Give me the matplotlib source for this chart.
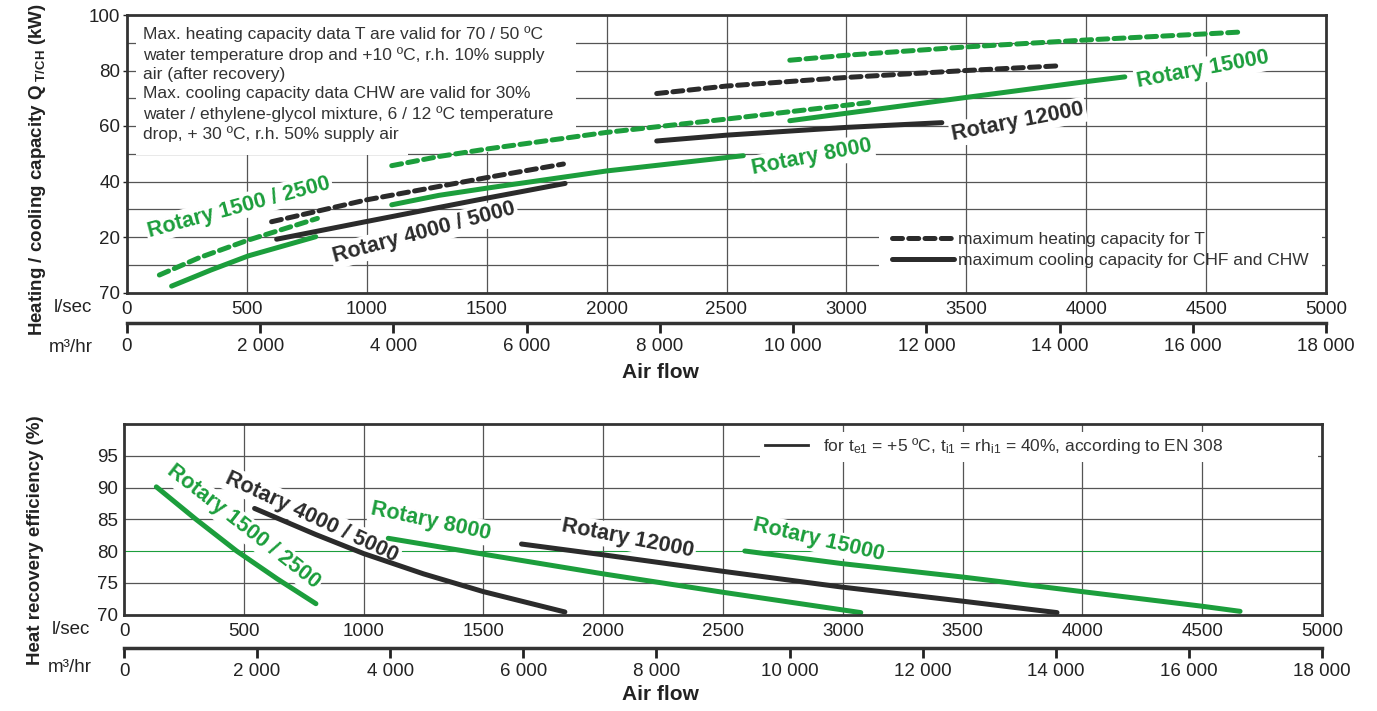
import matplotlib.pyplot as plt
from matplotlib.lines import Line2D
from matplotlib.patches import Rectangle

plt.rcParams["font.family"] = ["Liberation Sans", "DejaVu Sans"]
plt.rcParams["mathtext.fontset"] = "custom"
plt.rcParams["mathtext.rm"] = "Liberation Sans"
plt.rcParams["mathtext.bf"] = "Liberation Sans:bold"
plt.rcParams["mathtext.it"] = "Liberation Sans:italic"

GREEN = "#1c9e3c"
DARK = "#2b2b2b"
GRID = "#555555"
DASH = (0, (2.0, 1.25))

# ---- capacity chart: kW vs air flow (l/s)
heat_1500_x = [135, 300, 506, 794]
heat_1500_y = [6.3, 12.5, 18.9, 26.7]
cool_1500_x = [186, 350, 506, 787]
cool_1500_y = [2.3, 8.1, 13.2, 20.1]
heat_4000_x = [603, 1000, 1500, 1820]
heat_4000_y = [25.5, 33.4, 41.4, 46.3]
cool_4000_x = [624, 1000, 1500, 1827]
cool_4000_y = [19.2, 25.6, 34.0, 39.3]
heat_8000_x = [1104, 1300, 1500, 2000, 2500, 3000, 3118]
heat_8000_y = [45.7, 49.0, 51.7, 57.7, 62.5, 67.5, 68.7]
cool_8000_x = [1104, 1300, 1500, 2000, 2570]
cool_8000_y = [31.6, 35.0, 37.6, 43.8, 49.3]
heat_12000_x = [2209, 2500, 3000, 3500, 3890]
heat_12000_y = [71.7, 74.4, 77.5, 80.0, 81.7]
cool_12000_x = [2209, 2500, 3000, 3398]
cool_12000_y = [54.6, 56.7, 59.5, 61.2]
heat_15000_x = [2764, 3000, 3500, 4000, 4500, 4652]
heat_15000_y = [83.7, 85.5, 88.5, 91.0, 93.2, 93.9]
cool_15000_x = [2764, 3000, 3500, 4000, 4161]
cool_15000_y = [61.9, 64.6, 70.3, 76.0, 77.7]

# ---- efficiency chart: % vs air flow (l/s)
eff_1500_x = [135, 300, 470, 640, 801]
eff_1500_y = [90.1, 85.0, 80.0, 75.6, 71.7]
eff_4000_x = [545, 800, 1000, 1250, 1500, 1840]
eff_4000_y = [86.7, 82.6, 79.6, 76.4, 73.6, 70.4]
eff_8000_x = [1103, 1500, 2000, 2500, 3075]
eff_8000_y = [82.0, 79.5, 76.4, 73.5, 70.3]
eff_12000_x = [1659, 2000, 2500, 3000, 3500, 3894]
eff_12000_y = [81.1, 79.4, 76.8, 74.3, 72.1, 70.3]
eff_15000_x = [2591, 3000, 3500, 4000, 4500, 4658]
eff_15000_y = [80.0, 78.0, 75.9, 73.6, 71.3, 70.5]

ls_ticks = [0, 500, 1000, 1500, 2000, 2500, 3000, 3500, 4000, 4500, 5000]
m3_ticks = [0, 2000, 4000, 6000, 8000, 10000, 12000, 14000, 16000, 18000]
m3_labels = ["0", "2 000", "4 000", "6 000", "8 000", "10 000",
             "12 000", "14 000", "16 000", "18 000"]
kw_ticks = [0, 20, 40, 60, 80, 100]
kw_labels = ["70", "20", "40", "60", "80", "100"]
eff_ticks = [70, 75, 80, 85, 90, 95]

W, H = 1377, 711
fig = plt.figure(figsize=(W / 100, H / 100), dpi=100)


def px_axes(left, top, right, bottom):
    return fig.add_axes([left / W, 1 - bottom / H, (right - left) / W, (bottom - top) / H])


def style_axes(ax, m3_loc):
    for s in ax.spines.values():
        s.set_linewidth(2)
        s.set_color("#333333")
        s.set_zorder(6)
    ax.set_xlim(0, 5000)
    ax.set_xticks(ls_ticks)
    ax.set_xticklabels([str(t) for t in ls_ticks])
    ax.tick_params(axis="x", length=0, pad=6, labelsize=13.5, colors="#222222")
    ax.tick_params(axis="y", length=3, width=1, pad=2, labelsize=13.5, colors="#222222")
    sec = ax.secondary_xaxis(m3_loc, functions=(lambda x: x * 3.6, lambda x: x / 3.6))
    sec.set_xticks(m3_ticks)
    sec.set_xticklabels(m3_labels)
    sec.spines["bottom"].set_linewidth(2.5)
    sec.spines["bottom"].set_color("#333333")
    sec.tick_params(axis="x", direction="out", length=7, width=2, pad=4,
                    labelsize=13.5, colors="#222222")
    for x in ls_ticks[1:-1]:
        ax.axvline(x, color=GRID, lw=0.9, zorder=2)


def curve(ax, x, y, color, dashed=False):
    if dashed:
        ax.plot(x, y, color=color, lw=3.6, linestyle=DASH,
                dash_capstyle="round", solid_capstyle="round", zorder=3)
    else:
        ax.plot(x, y, color=color, lw=3.6, solid_capstyle="round", zorder=3)


def label(ax, x, y, s, color, rot):
    ax.text(x, y, s, color=color, fontsize=15.5, fontweight="bold", rotation=rot,
            rotation_mode="anchor", ha="center", va="center", zorder=2.5,
            bbox=dict(facecolor="white", edgecolor="none", pad=1.5))


# ================= top chart =================
ax1 = px_axes(127, 15, 1326, 292.5)
style_axes(ax1, -0.11)
ax1.set_ylim(0, 100)
ax1.set_yticks(kw_ticks)
ax1.set_yticklabels(kw_labels)
for y in range(10, 100, 10):
    ax1.axhline(y, color=GRID, lw=0.9, zorder=1)

# white areas behind the notes
ax1.add_patch(Rectangle((0.0075, 0.505), 0.367, 0.49, transform=ax1.transAxes,
                        facecolor="white", edgecolor="none", zorder=2.4))
ax1.add_patch(Rectangle((0.0075, 0.495), 0.227, 0.02, transform=ax1.transAxes,
                        facecolor="white", edgecolor="none", zorder=2.4))
ax1.add_patch(Rectangle((0.627, 0.081), 0.370, 0.151, transform=ax1.transAxes,
                        facecolor="white", edgecolor="none", zorder=1.5))

curve(ax1, heat_1500_x, heat_1500_y, GREEN, True)
curve(ax1, cool_1500_x, cool_1500_y, GREEN)
curve(ax1, heat_4000_x, heat_4000_y, DARK, True)
curve(ax1, cool_4000_x, cool_4000_y, DARK)
curve(ax1, heat_8000_x, heat_8000_y, GREEN, True)
curve(ax1, cool_8000_x, cool_8000_y, GREEN)
curve(ax1, heat_12000_x, heat_12000_y, DARK, True)
curve(ax1, cool_12000_x, cool_12000_y, DARK)
curve(ax1, heat_15000_x, heat_15000_y, GREEN, True)
curve(ax1, cool_15000_x, cool_15000_y, GREEN)

label(ax1, 467, 30.8, "Rotary 1500 / 2500", GREEN, 15)
label(ax1, 1239, 21.5, "Rotary 4000 / 5000", DARK, 15)
label(ax1, 2857, 48.8, "Rotary 8000", GREEN, 11)
label(ax1, 3716, 61.4, "Rotary 12000", DARK, 11)
label(ax1, 4487, 80.2, "Rotary 15000", GREEN, 10.5)

note = ("Max. heating capacity data T are valid for 70 / 50 ºC\n"
        "water temperature drop and +10 ºC, r.h. 10% supply\n"
        "air (after recovery)\n"
        "Max. cooling capacity data CHW are valid for 30%\n"
        "water / ethylene-glycol mixture, 6 / 12 ºC temperature\n"
        "drop, + 30 ºC, r.h. 50% supply air")
ax1.text(0.013, 0.96, note, transform=ax1.transAxes, ha="left", va="top",
         fontsize=12.5, linespacing=1.36, color="#333333", zorder=4)

leg1 = ax1.legend(
    handles=[Line2D([], [], color=DARK, lw=3.6, linestyle=DASH,
                    dash_capstyle="round"),
             Line2D([], [], color=DARK, lw=3.6, solid_capstyle="round")],
    labels=["maximum heating capacity for T",
            "maximum cooling capacity for CHF and CHW"],
    loc="center left", bbox_to_anchor=(0.638, 0.153), frameon=False,
    fontsize=12.5, handlelength=3.6, handletextpad=0.2, labelspacing=0.3,
    borderpad=0, borderaxespad=0)
for t in leg1.get_texts():
    t.set_color("#333333")

fig.text(92 / W, 1 - 307 / H, "l/sec", ha="right", va="center", fontsize=13.5, color="#222222")
fig.text(93 / W, 1 - 347 / H, "m³/hr", ha="right", va="center", fontsize=13.5, color="#222222")
fig.text(660 / W, 1 - 373 / H, "Air flow", ha="center", va="center",
         fontsize=15, fontweight="bold", color="#222222")
fig.text(38 / W, 1 - 170 / H, r"Heating / cooling capacity Q$_{\ \mathbf{T/CH}}$ (kW)",
         rotation=90, ha="center", va="center", fontsize=13.5, fontweight="bold",
         color="#222222")

# ================= bottom chart =================
ax2 = px_axes(124, 424, 1322, 614.5)
style_axes(ax2, -0.175)
ax2.set_ylim(70, 100)
ax2.set_yticks(eff_ticks)
ax2.tick_params(axis="y", length=0, pad=4)
for y in [75, 85, 90, 95]:
    ax2.axhline(y, color=GRID, lw=0.9, zorder=1)
ax2.axhline(80, color=GREEN, lw=0.8, zorder=1)

ax2.add_patch(Rectangle((0.531, 0.80), 0.466, 0.158, transform=ax2.transAxes,
                        facecolor="white", edgecolor="none", zorder=2.4))

curve(ax2, eff_1500_x, eff_1500_y, GREEN)
curve(ax2, eff_4000_x, eff_4000_y, DARK)
curve(ax2, eff_8000_x, eff_8000_y, GREEN)
curve(ax2, eff_12000_x, eff_12000_y, DARK)
curve(ax2, eff_15000_x, eff_15000_y, GREEN)

label(ax2, 497, 83.8, "Rotary 1500 / 2500", GREEN, -38)
label(ax2, 785, 85.4, "Rotary 4000 / 5000", DARK, -25)
label(ax2, 1281, 84.7, "Rotary 8000", GREEN, -12)
label(ax2, 2103, 82.0, "Rotary 12000", DARK, -11)
label(ax2, 2901, 81.7, "Rotary 15000", GREEN, -13)

leg2 = ax2.legend(
    handles=[Line2D([], [], color=DARK, lw=2)],
    labels=[r"for t$_{\rm e1}$ = +5 ºC, t$_{\rm i1}$ = rh$_{\rm i1}$ = 40%, according to EN 308"],
    loc="center left", bbox_to_anchor=(0.535, 0.885), frameon=False,
    fontsize=12.5, handlelength=2.5, handletextpad=0.85,
    borderpad=0, borderaxespad=0)
for t in leg2.get_texts():
    t.set_color("#333333")

fig.text(90 / W, 1 - 630 / H, "l/sec", ha="right", va="center", fontsize=13.5, color="#222222")
fig.text(92 / W, 1 - 667 / H, "m³/hr", ha="right", va="center", fontsize=13.5, color="#222222")
fig.text(660 / W, 1 - 695 / H, "Air flow", ha="center", va="center",
         fontsize=15, fontweight="bold", color="#222222")
fig.text(36 / W, 1 - 540 / H, "Heat recovery efficiency (%)",
         rotation=90, ha="center", va="center", fontsize=13.5, fontweight="bold",
         color="#222222")

fig.savefig("out.png", dpi=100)
